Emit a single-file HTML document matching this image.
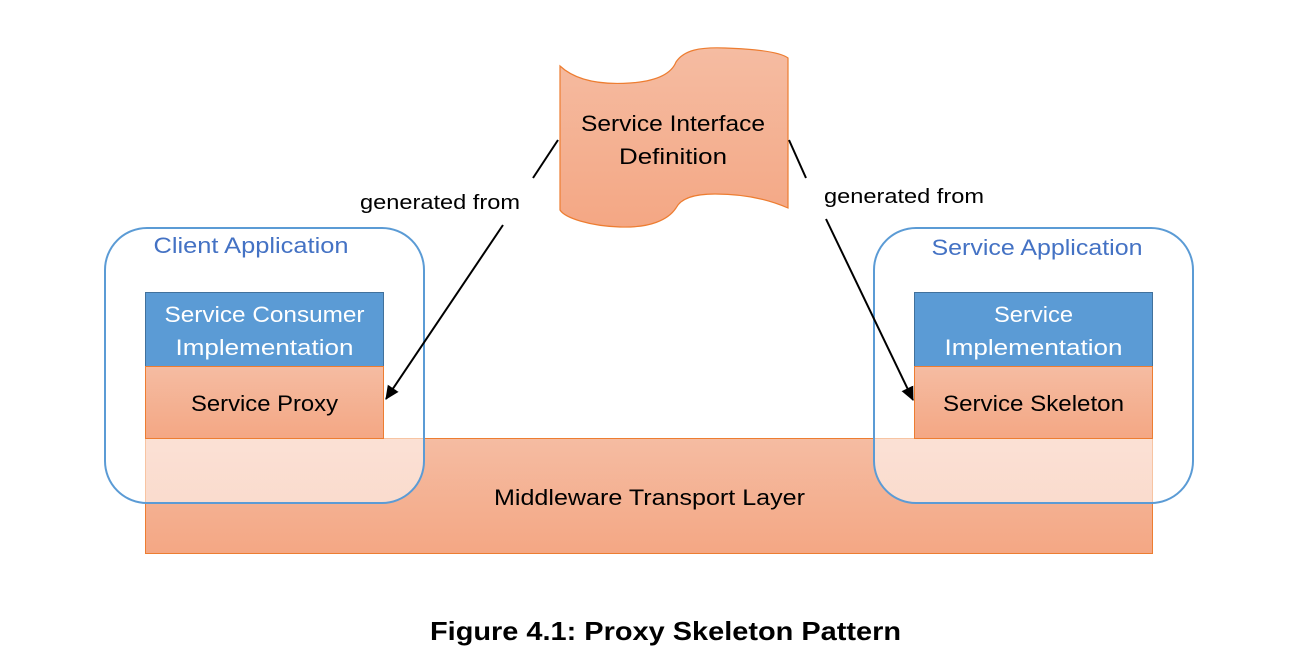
<!DOCTYPE html>
<html><head><meta charset="utf-8"><style>
html,body{margin:0;padding:0;background:#fff;}
svg{display:block;}
text{font-family:"Liberation Sans",sans-serif;}
</style></head><body>
<svg width="1293" height="664" viewBox="0 0 1293 664" xmlns="http://www.w3.org/2000/svg">
<defs>
<linearGradient id="og" x1="0" y1="0" x2="0" y2="1">
<stop offset="0" stop-color="#f5bca2"/><stop offset="1" stop-color="#f4a784"/>
</linearGradient>
<marker id="ah" markerWidth="14" markerHeight="14" refX="12" refY="6" orient="auto" markerUnits="userSpaceOnUse" viewBox="0 0 13 12">
<path d="M0,0 L13,6 L0,12 z" fill="#000"/>
</marker>
</defs>
<rect x="145.5" y="438.5" width="1007" height="115" fill="url(#og)" stroke="#ed7d31" stroke-width="1"/>
<text x="649.5" y="505" font-size="22" text-anchor="middle" textLength="311" lengthAdjust="spacingAndGlyphs">Middleware Transport Layer</text>
<rect x="105" y="228" width="319" height="275" rx="42" fill="#fff" fill-opacity="0.55" stroke="#5b9bd5" stroke-width="2"/>
<rect x="874" y="228" width="319" height="275" rx="42" fill="#fff" fill-opacity="0.55" stroke="#5b9bd5" stroke-width="2"/>
<text x="251" y="253" font-size="22" fill="#4472c4" text-anchor="middle" textLength="195" lengthAdjust="spacingAndGlyphs">Client Application</text>
<text x="1037" y="255" font-size="22" fill="#4472c4" text-anchor="middle" textLength="211" lengthAdjust="spacingAndGlyphs">Service Application</text>
<rect x="145.5" y="292.5" width="238" height="74" fill="#5b9bd5" stroke="#41719c"/>
<text x="264.5" y="322" font-size="22" fill="#fff" text-anchor="middle" textLength="200" lengthAdjust="spacingAndGlyphs">Service Consumer</text>
<text x="264.5" y="355" font-size="22" fill="#fff" text-anchor="middle" textLength="178" lengthAdjust="spacingAndGlyphs">Implementation</text>
<rect x="145.5" y="366.5" width="238" height="72" fill="url(#og)" stroke="#ed7d31"/>
<text x="264.5" y="411" font-size="22" text-anchor="middle" textLength="147" lengthAdjust="spacingAndGlyphs">Service Proxy</text>
<rect x="914.5" y="292.5" width="238" height="74" fill="#5b9bd5" stroke="#41719c"/>
<text x="1033.5" y="322" font-size="22" fill="#fff" text-anchor="middle" textLength="79" lengthAdjust="spacingAndGlyphs">Service</text>
<text x="1033.5" y="355" font-size="22" fill="#fff" text-anchor="middle" textLength="178" lengthAdjust="spacingAndGlyphs">Implementation</text>
<rect x="914.5" y="366.5" width="238" height="72" fill="url(#og)" stroke="#ed7d31"/>
<text x="1033.5" y="411" font-size="22" text-anchor="middle" textLength="181" lengthAdjust="spacingAndGlyphs">Service Skeleton</text>
<path d="M560,66 C575,80 600,85 630,83 C660,81 672,72 676,62 C684,50 700,47 725,48 C755,49 780,52 788,58 L788,208 C770,200 745,194 715,194 C690,194 680,200 676,208 C668,220 650,228 620,227 C590,226 565,218 560,210 Z" fill="url(#og)" stroke="#ed7d31" stroke-width="1.2"/>
<text x="673" y="131" font-size="22" text-anchor="middle" textLength="184" lengthAdjust="spacingAndGlyphs">Service Interface</text>
<text x="673" y="164" font-size="22" text-anchor="middle" textLength="108" lengthAdjust="spacingAndGlyphs">Definition</text>
<line x1="558" y1="140" x2="533" y2="178" stroke="#000" stroke-width="2"/>
<line x1="503" y1="225" x2="386" y2="399" stroke="#000" stroke-width="2" marker-end="url(#ah)"/>
<line x1="789" y1="140" x2="806" y2="178" stroke="#000" stroke-width="2"/>
<line x1="826" y1="219" x2="913" y2="400" stroke="#000" stroke-width="2" marker-end="url(#ah)"/>
<text x="440" y="209" font-size="20" text-anchor="middle" textLength="160" lengthAdjust="spacingAndGlyphs">generated from</text>
<text x="904" y="203" font-size="20" text-anchor="middle" textLength="160" lengthAdjust="spacingAndGlyphs">generated from</text>
<text x="665.5" y="640" font-size="26" font-weight="bold" text-anchor="middle" textLength="471" lengthAdjust="spacingAndGlyphs">Figure 4.1: Proxy Skeleton Pattern</text>
</svg>
</body></html>
